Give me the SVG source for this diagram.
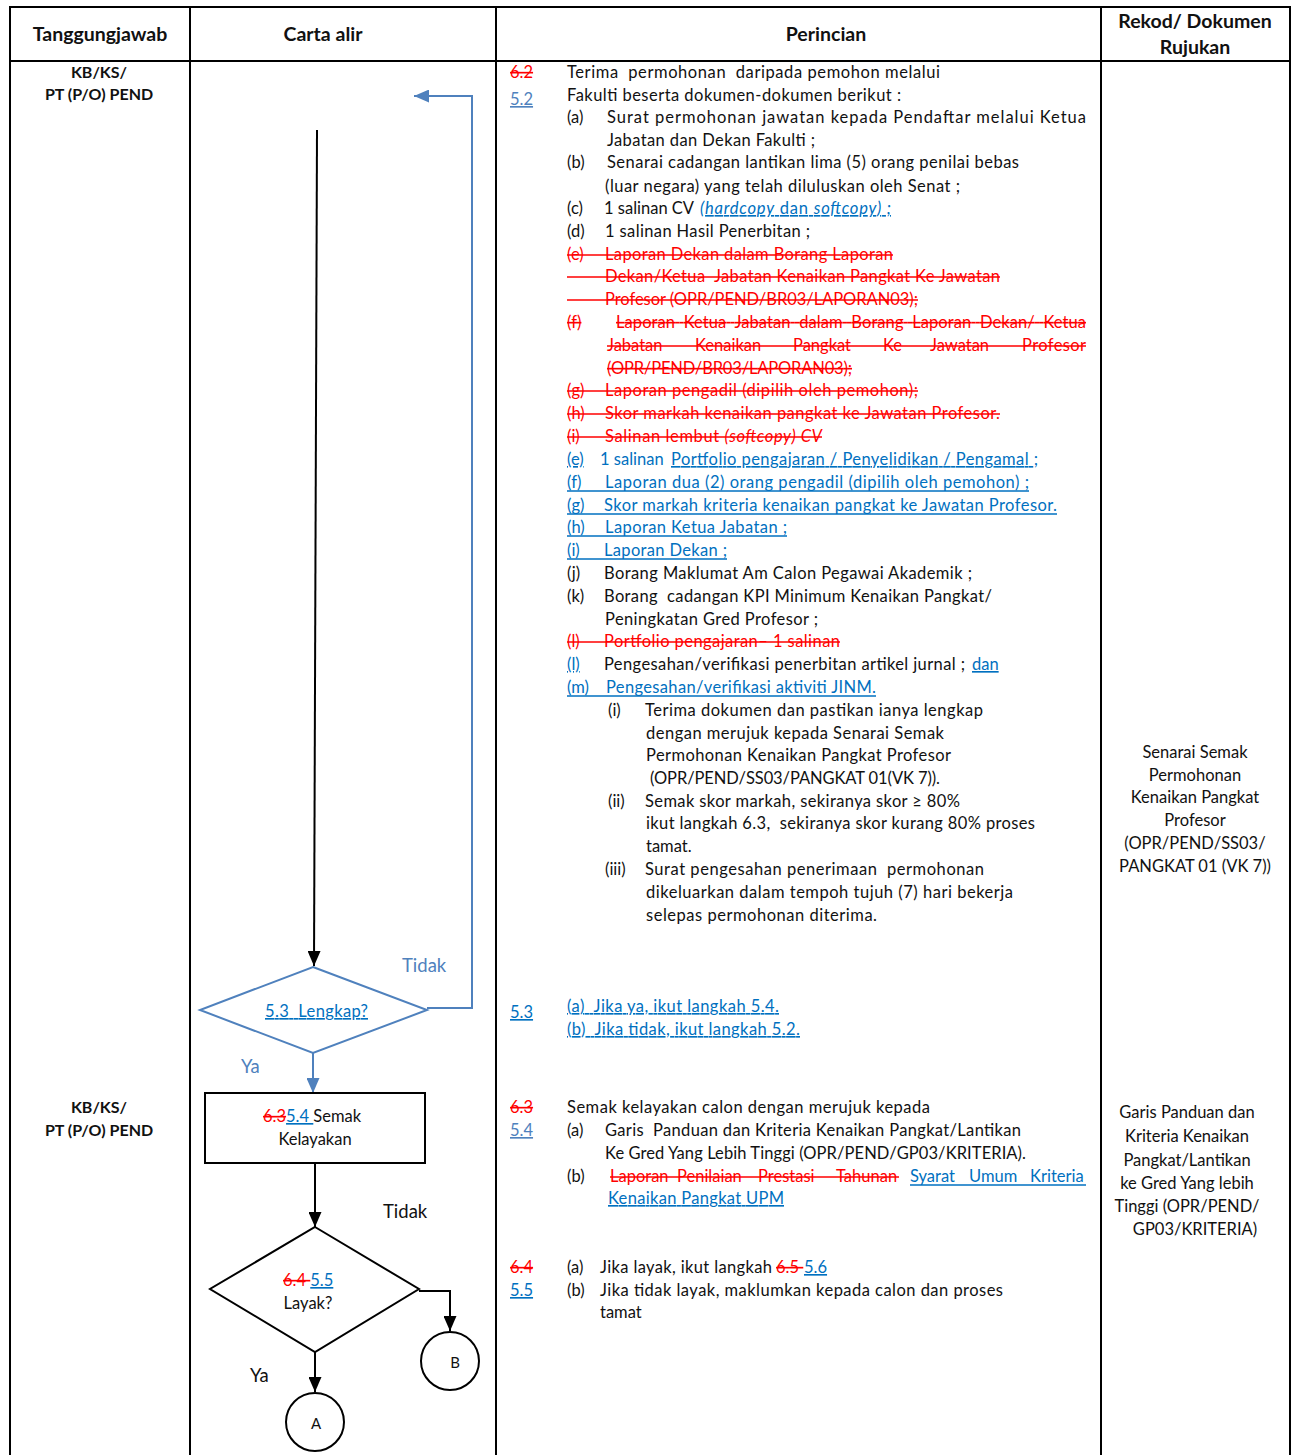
<svg xmlns="http://www.w3.org/2000/svg" width="1292" height="1455" viewBox="0 0 1292 1455">
<style>
text { font-family: Lato, "Noto Sans", "Liberation Sans", sans-serif; font-size: 16.5px; fill: #111; white-space: pre; }
.h { font-weight: bold; font-size: 19.5px; text-anchor: middle; }
.who { font-weight: bold; font-size: 16px; text-anchor: middle; }
.c { text-anchor: middle; }
.rc { text-anchor: middle; font-size: 16.5px; }
.red { fill: #ff0000; text-decoration: line-through; }
.rd { fill: #ff0000; }
.blu { fill: #0070c0; }
.lb { fill: #4f81bd; }
.u { text-decoration: underline; }
.grid { fill: none; stroke: #000; stroke-width: 2; }
.fk { fill: none; stroke: #000; stroke-width: 2; }
.fb { fill: none; stroke: #4f81bd; stroke-width: 2; }
.strike { stroke: #ff0000; stroke-width: 1.3; }
.ul { stroke: #0070c0; stroke-width: 1.3; }
</style>
<defs>
<marker id="ak" viewBox="0 0 10 10" refX="10" refY="5" markerWidth="15" markerHeight="13" markerUnits="userSpaceOnUse" orient="auto" preserveAspectRatio="none">
<path d="M0,0 L10,5 L0,10 Z" fill="#000"/>
</marker>
<marker id="ab" viewBox="0 0 10 10" refX="10" refY="5" markerWidth="15" markerHeight="13" markerUnits="userSpaceOnUse" orient="auto" preserveAspectRatio="none">
<path d="M0,0 L10,5 L0,10 Z" fill="#4f81bd"/>
</marker>
</defs>
<rect width="1292" height="1455" fill="#fff"/>

<!-- table frame -->
<g id="table">
<rect class="grid" x="10" y="7" width="1280" height="1460"/>
<line class="grid" x1="10" y1="61" x2="1290" y2="61"/>
<line class="grid" x1="190" y1="7" x2="190" y2="1455"/>
<line class="grid" x1="496" y1="7" x2="496" y2="1455"/>
<line class="grid" x1="1101" y1="7" x2="1101" y2="1455"/>
<text class="h" x="100" y="41">Tanggungjawab</text>
<text class="h" x="323" y="41">Carta alir</text>
<text class="h" x="826" y="41">Perincian</text>
<text class="h" x="1195" y="28">Rekod/ Dokumen</text>
<text class="h" x="1195" y="54">Rujukan</text>
</g>

<!-- responsibility -->
<g id="who-1">
<text class="who" x="99" y="78">KB/KS/</text>
<text class="who" x="99" y="100">PT (P/O) PEND</text>
</g>
<g id="who-2">
<text class="who" x="99" y="1113">KB/KS/</text>
<text class="who" x="99" y="1136">PT (P/O) PEND</text>
</g>

<!-- connectors -->
<g id="connectors">
<line class="fk" x1="317" y1="130" x2="314" y2="966" marker-end="url(#ak)"/>
<polyline class="fb" points="427,1008 472,1008 472,96 414,96" marker-end="url(#ab)"/>
<line class="fb" x1="313" y1="1053" x2="313" y2="1093" marker-end="url(#ab)"/>
<line class="fk" x1="315" y1="1163" x2="315" y2="1227" marker-end="url(#ak)"/>
<polyline class="fk" points="419,1291 450,1291 450,1331" marker-end="url(#ak)"/>
<line class="fk" x1="315" y1="1352" x2="315" y2="1392" marker-end="url(#ak)"/>
<text class="lb" x="402" y="972" style="font-size:18.5px">Tidak</text>
<text class="lb" x="241" y="1073" style="font-size:18.5px">Ya</text>
<text x="383" y="1218" style="font-size:18.5px">Tidak</text>
<text x="250" y="1382" style="font-size:18.5px">Ya</text>
</g>

<!-- flowchart nodes -->
<g id="d-lengkap">
<polygon class="fb" points="313,967 427,1010 313,1053 200,1010"/>
<text class="blu u" x="265" y="1017" textLength="103">5.3  Lengkap?</text>
</g>
<g id="p-semak">
<rect class="fk" x="205" y="1093" width="220" height="70"/>
<text x="263" y="1122"><tspan class="red">6.3</tspan><tspan class="blu u">5.4 </tspan><tspan>Semak</tspan></text>
<text class="c" x="315" y="1145">Kelayakan</text>
</g>
<g id="d-layak">
<polygon class="fk" points="315,1227 419,1289 315,1352 210,1289"/>
<text x="283" y="1286"><tspan class="red">6.4 </tspan><tspan class="blu u">5.5</tspan></text>
<text class="c" x="308" y="1309">Layak?</text>
</g>
<g id="c-b">
<circle class="fk" cx="450" cy="1361" r="29"/>
<text class="c" x="455" y="1368" style="font-size:15px">B</text>
</g>
<g id="c-a">
<circle class="fk" cx="315" cy="1422" r="29"/>
<text class="c" x="316" y="1429" style="font-size:15px">A</text>
</g>

<!-- step 5.2 details -->
<g id="text-52">
<text class="red" x="510" y="78">6.2</text>
<text class="lb u" x="510" y="105">5.2</text>
<text x="567" y="78" textLength="373">Terima  permohonan  daripada pemohon melalui</text>
<text x="567" y="101" textLength="334">Fakulti beserta dokumen-dokumen berikut :</text>
<text x="567" y="123">(a)</text>
<text x="607" y="123" textLength="479">Surat permohonan jawatan kepada Pendaftar melalui Ketua</text>
<text x="607" y="146" textLength="208">Jabatan dan Dekan Fakulti ;</text>
<text x="567" y="168">(b)</text>
<text x="607" y="168" textLength="412">Senarai cadangan lantikan lima (5) orang penilai bebas</text>
<text x="605" y="192" textLength="355">(luar negara) yang telah diluluskan oleh Senat ;</text>
<text x="567" y="214">(c)</text>
<text x="604" y="214">1 salinan CV </text>
<text class="blu u" x="700" y="214" textLength="191"><tspan font-style="italic">(hardcopy</tspan> dan <tspan font-style="italic">softcopy) ;</tspan></text>
<text x="567" y="237">(d)</text>
<text x="605" y="237" textLength="205">1 salinan Hasil Penerbitan ;</text>

<text class="rd" x="567" y="260">(e)</text>
<text class="rd" x="605" y="260" textLength="288">Laporan Dekan dalam Borang Laporan</text>
<line class="strike" x1="567" y1="255" x2="893" y2="255"/>
<text class="rd" x="605" y="282" textLength="395">Dekan/Ketua  Jabatan Kenaikan Pangkat Ke Jawatan</text>
<line class="strike" x1="567" y1="277" x2="1000" y2="277"/>
<text class="rd" x="605" y="305" textLength="313">Profesor (OPR/PEND/BR03/LAPORAN03);</text>
<line class="strike" x1="567" y1="300" x2="918" y2="300"/>
<text class="red" x="567" y="328">(f)</text>
<text class="red" x="616" y="328" textLength="470">Laporan  Ketua  Jabatan  dalam  Borang  Laporan  Dekan/  Ketua</text>
<text class="rd" x="607" y="351">Jabatan</text>
<text class="rd" x="695" y="351">Kenaikan</text>
<text class="rd" x="793" y="351">Pangkat</text>
<text class="rd" x="883" y="351">Ke</text>
<text class="rd" x="930" y="351">Jawatan</text>
<text class="rd" x="1022" y="351" textLength="64">Profesor</text>
<line class="strike" x1="607" y1="346" x2="1086" y2="346"/>
<text class="red" x="607" y="374" textLength="245">(OPR/PEND/BR03/LAPORAN03);</text>
<text class="rd" x="567" y="396">(g)</text>
<text class="rd" x="605" y="396" textLength="313">Laporan pengadil (dipilih oleh pemohon);</text>
<line class="strike" x1="567" y1="391" x2="918" y2="391"/>
<text class="rd" x="567" y="419">(h)</text>
<text class="rd" x="605" y="419" textLength="395">Skor markah kenaikan pangkat ke Jawatan Profesor.</text>
<line class="strike" x1="567" y1="414" x2="1000" y2="414"/>
<text class="rd" x="567" y="442">(i)</text>
<text class="rd" x="605" y="442" textLength="217">Salinan lembut <tspan font-style="italic">(softcopy) CV</tspan></text>
<line class="strike" x1="567" y1="437" x2="822" y2="437"/>

<text class="blu u" x="567" y="465">(e)</text>
<text class="blu" x="600" y="465">1 salinan </text>
<text class="blu u" x="671" y="465" textLength="367">Portfolio pengajaran / Penyelidikan / Pengamal ;</text>
<text class="blu" x="567" y="488">(f)</text>
<text class="blu" x="605" y="488" textLength="424">Laporan dua (2) orang pengadil (dipilih oleh pemohon) ;</text>
<line class="ul" x1="567" y1="491" x2="1029" y2="491"/>
<text class="blu" x="567" y="511">(g)</text>
<text class="blu" x="604" y="511" textLength="453">Skor markah kriteria kenaikan pangkat ke Jawatan Profesor.</text>
<line class="ul" x1="567" y1="514" x2="1057" y2="514"/>
<text class="blu" x="567" y="533">(h)</text>
<text class="blu" x="605" y="533" textLength="182">Laporan Ketua Jabatan ;</text>
<line class="ul" x1="567" y1="536" x2="787" y2="536"/>
<text class="blu" x="567" y="556">(i)</text>
<text class="blu" x="604" y="556" textLength="123">Laporan Dekan ;</text>
<line class="ul" x1="567" y1="559" x2="727" y2="559"/>

<text x="567" y="579">(j)</text>
<text x="604" y="579" textLength="368">Borang Maklumat Am Calon Pegawai Akademik ;</text>
<text x="567" y="602">(k)</text>
<text x="604" y="602" textLength="388">Borang  cadangan KPI Minimum Kenaikan Pangkat/</text>
<text x="605" y="625" textLength="213">Peningkatan Gred Profesor ;</text>
<text class="rd" x="567" y="647">(l)</text>
<text class="rd" x="604" y="647" textLength="236">Portfolio pengajaran– 1 salinan</text>
<line class="strike" x1="567" y1="642" x2="840" y2="642"/>
<text class="blu u" x="567" y="670">(l)</text>
<text x="604" y="670" textLength="361">Pengesahan/verifikasi penerbitan artikel jurnal ;</text>
<text class="blu u" x="972" y="670">dan</text>
<text class="blu" x="567" y="693">(m)</text>
<text class="blu" x="606" y="693" textLength="270">Pengesahan/verifikasi aktiviti JINM.</text>
<line class="ul" x1="567" y1="696" x2="876" y2="696"/>

<text x="608" y="716">(i)</text>
<text x="645" y="716" textLength="338">Terima dokumen dan pastikan ianya lengkap</text>
<text x="646" y="739" textLength="298">dengan merujuk kepada Senarai Semak</text>
<text x="646" y="761" textLength="305">Permohonan Kenaikan Pangkat Profesor</text>
<text x="650" y="784" textLength="290">(OPR/PEND/SS03/PANGKAT 01(VK 7)).</text>
<text x="608" y="807">(ii)</text>
<text x="645" y="807" textLength="315">Semak skor markah, sekiranya skor ≥ 80%</text>
<text x="646" y="829" textLength="389">ikut langkah 6.3,  sekiranya skor kurang 80% proses</text>
<text x="646" y="852">tamat.</text>
<text x="605" y="875">(iii)</text>
<text x="645" y="875" textLength="339">Surat pengesahan penerimaan  permohonan</text>
<text x="646" y="898" textLength="367">dikeluarkan dalam tempoh tujuh (7) hari bekerja</text>
<text x="646" y="921" textLength="231">selepas permohonan diterima.</text>
</g>

<!-- step 5.3 details -->
<g id="text-53">
<text class="blu u" x="510" y="1018">5.3</text>
<text class="blu u" x="567" y="1012" textLength="212">(a)  Jika ya, ikut langkah 5.4.</text>
<text class="blu u" x="567" y="1035" textLength="233">(b)  Jika tidak, ikut langkah 5.2.</text>
</g>

<!-- step 5.4 details -->
<g id="text-54">
<text class="red" x="510" y="1113">6.3</text>
<text class="lb u" x="510" y="1136">5.4</text>
<text x="567" y="1113" textLength="363">Semak kelayakan calon dengan merujuk kepada</text>
<text x="567" y="1136">(a)</text>
<text x="605" y="1136" textLength="416">Garis  Panduan dan Kriteria Kenaikan Pangkat/Lantikan</text>
<text x="605" y="1159" textLength="421">Ke Gred Yang Lebih Tinggi (OPR/PEND/GP03/KRITERIA).</text>
<text x="567" y="1182">(b)</text>
<text class="rd" x="610" y="1182">Laporan</text>
<text class="rd" x="677" y="1182">Penilaian</text>
<text class="rd" x="758" y="1182">Prestasi</text>
<text class="rd" x="836" y="1182">Tahunan</text>
<line class="strike" x1="610" y1="1177" x2="899" y2="1177"/>
<text class="blu" x="910" y="1182">Syarat</text>
<text class="blu" x="969" y="1182">Umum</text>
<text class="blu" x="1030" y="1182">Kriteria</text>
<line class="ul" x1="910" y1="1185" x2="1086" y2="1185"/>
<text class="blu u" x="608" y="1204" textLength="176">Kenaikan Pangkat UPM</text>
</g>

<!-- step 5.5 details -->
<g id="text-55">
<text class="red" x="510" y="1273">6.4</text>
<text class="blu u" x="510" y="1296">5.5</text>
<text x="567" y="1273">(a)</text>
<text x="600" y="1273" textLength="172">Jika layak, ikut langkah</text>
<text class="red" x="776" y="1273">6.5 </text>
<text class="blu u" x="804" y="1273">5.6</text>
<text x="567" y="1296">(b)</text>
<text x="600" y="1296" textLength="403">Jika tidak layak, maklumkan kepada calon dan proses</text>
<text x="600" y="1318">tamat</text>
</g>

<!-- reference documents -->
<g id="ref-1">
<text class="rc" x="1195" y="758">Senarai Semak</text>
<text class="rc" x="1195" y="781">Permohonan</text>
<text class="rc" x="1195" y="803">Kenaikan Pangkat</text>
<text class="rc" x="1195" y="826">Profesor</text>
<text class="rc" x="1195" y="849">(OPR/PEND/SS03/</text>
<text class="rc" x="1195" y="872">PANGKAT 01 (VK 7))</text>
</g>
<g id="ref-2">
<text class="rc" x="1187" y="1118">Garis Panduan dan</text>
<text class="rc" x="1187" y="1142">Kriteria Kenaikan</text>
<text class="rc" x="1187" y="1166">Pangkat/Lantikan</text>
<text class="rc" x="1187" y="1189">ke Gred Yang lebih</text>
<text class="rc" x="1187" y="1212">Tinggi (OPR/PEND/</text>
<text class="rc" x="1195" y="1235">GP03/KRITERIA)</text>
</g>
</svg>
